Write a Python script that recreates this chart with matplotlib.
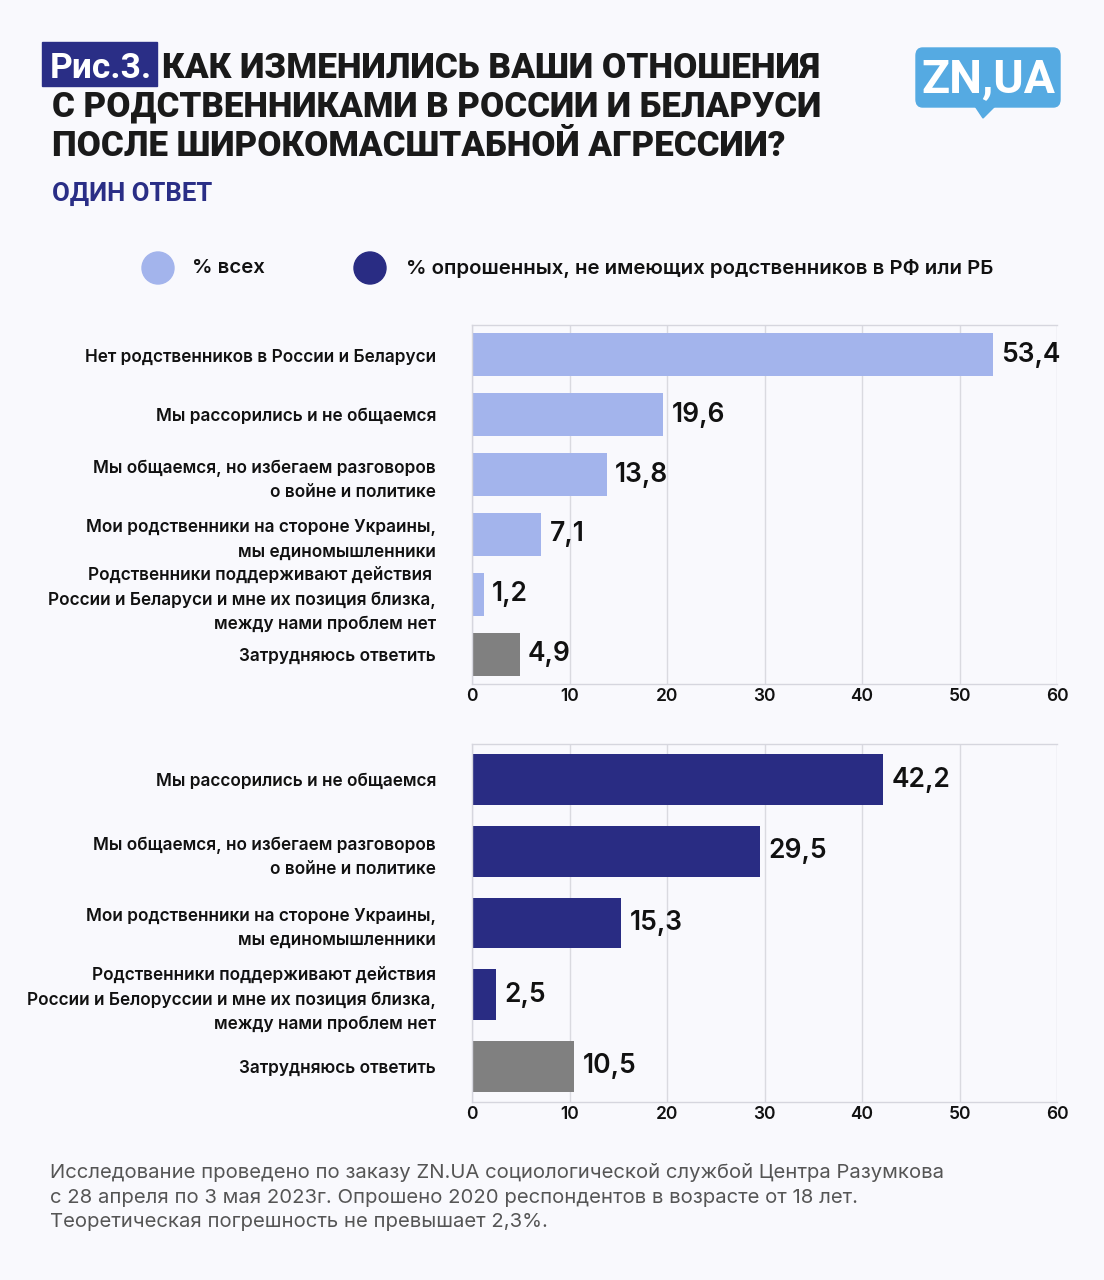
import matplotlib
matplotlib.use("Agg")
import matplotlib.pyplot as plt
from matplotlib.patches import FancyBboxPatch, Rectangle, Polygon, Circle

plt.rcParams['font.family'] = ['Inter', 'DejaVu Sans']

# DATA ============================
cats_all = [
    "Нет родственников в России и Беларуси",
    "Мы рассорились и не общаемся",
    "Мы общаемся, но избегаем разговоров\nо войне и политике",
    "Мои родственники на стороне Украины,\nмы единомышленники",
    "Родственники поддерживают действия \nРоссии и Беларуси и мне их позиция близка,\nмежду нами проблем нет",
    "Затрудняюсь ответить",
]
vals_all = [53.4, 19.6, 13.8, 7.1, 1.2, 4.9]

cats_norel = [
    "Мы рассорились и не общаемся",
    "Мы общаемся, но избегаем разговоров\nо войне и политике",
    "Мои родственники на стороне Украины,\nмы единомышленники",
    "Родственники поддерживают действия\nРоссии и Белоруссии и мне их позиция близка,\nмежду нами проблем нет",
    "Затрудняюсь ответить",
]
vals_norel = [42.2, 29.5, 15.3, 2.5, 10.5]

xticks = [0, 10, 20, 30, 40, 50, 60]
legend_labels = ["% всех", "% опрошенных, не имеющих родственников в РФ или РБ"]

BG = "#F9F9FD"
LIGHT = "#A3B4EC"
DARK = "#292C83"
GRAY = "#808080"
NAVY = "#2A2E86"

W, H = 1104, 1280
fig = plt.figure(figsize=(W / 100, H / 100), dpi=100, facecolor=BG)


def rect(l, t, r, b):
    return [l / W, 1 - b / H, (r - l) / W, (b - t) / H]


def fx(x):
    return x / W


def fy(y):
    return 1 - y / H


def fit_width(txt, target_px):
    # shrink / grow text so that it spans target_px
    r = fig.canvas.get_renderer()
    w = txt.get_window_extent(r).width
    txt.set_fontsize(txt.get_fontsize() * target_px / w)


def bars(ax, cats, vals, color, ylim, bh):
    y = list(range(len(vals)))
    colors = [color] * len(vals)
    colors[-1] = GRAY
    ax.barh(y, vals, height=bh, color=colors, zorder=3)
    for yy, v in zip(y, vals):
        ax.annotate(f"{v:.1f}".replace(".", ","), (v, yy), xytext=(6, 0),
                    textcoords="offset points", va="center", ha="left",
                    fontsize=19, fontweight="semibold", color="#111111")
    ax.set_ylim(*ylim)
    ax.set_xlim(0, 60)
    ax.set_yticks(y)
    ax.set_yticklabels(cats, fontsize=12.4, fontweight="semibold",
                       color="#111111", linespacing=1.55)
    ax.set_xticks(xticks)
    ax.set_xticklabels([str(t) for t in xticks], fontsize=12.5,
                       fontweight="semibold", color="#111111")
    ax.tick_params(axis="y", length=0, pad=26)
    ax.tick_params(axis="x", length=0, pad=3)
    ax.set_facecolor(BG)
    ax.grid(axis="x", color="#DADAE0", linewidth=1, zorder=0)
    ax.spines["right"].set_visible(False)
    for s in ["left", "bottom", "top"]:
        ax.spines[s].set_color("#D6D6DE")
        ax.spines[s].set_linewidth(1)
        ax.spines[s].set_zorder(4)


# MAIN ============================
ax1 = fig.add_axes(rect(472, 325, 1057, 684))
bars(ax1, cats_all, vals_all, LIGHT, (5.5, -0.5), 0.72)

ax2 = fig.add_axes(rect(472, 744, 1057, 1102))
bars(ax2, cats_norel, vals_norel, DARK, (4.5, -0.5), 0.71)

# title
fig.patches.append(Rectangle((fx(42), fy(86)), fx(115), 44 / H, transform=fig.transFigure,
                             color=NAVY, zorder=1))
t0 = fig.text(fx(50), fy(68), "Рис.3.", color="white", fontsize=22, family=["Roboto", "DejaVu Sans"],
              fontweight="bold", va="center", ha="left", zorder=2)
fit_width(t0, 102)
title_lines = [
    (162, 68, "КАК ИЗМЕНИЛИСЬ ВАШИ ОТНОШЕНИЯ", 658),
    (52, 107, "С РОДСТВЕННИКАМИ В РОССИИ И БЕЛАРУСИ", 769),
    (52, 147, "ПОСЛЕ ШИРОКОМАСШТАБНОЙ АГРЕССИИ?", 733),
]
for x, y, s, w in title_lines:
    t = fig.text(fx(x), fy(y), s, color="#1A1A1A", fontsize=24, family=["Roboto", "DejaVu Sans"],
                 fontweight="black", va="center", ha="left")
    fit_width(t, w)

t = fig.text(fx(52), fy(194), "ОДИН ОТВЕТ", color=NAVY, fontsize=17, family=["Roboto", "DejaVu Sans"],
             fontweight="bold", va="center", ha="left")
fit_width(t, 160)

# logo
fig.patches.append(FancyBboxPatch((fx(916), fy(107)), fx(144), 59 / H,
                                  boxstyle="round,pad=0,rounding_size=0.006",
                                  transform=fig.transFigure, color="#55AAE2", zorder=1))
fig.patches.append(Polygon([(fx(975), fy(106)), (fx(995), fy(106)), (fx(983), fy(118))],
                           closed=True, transform=fig.transFigure, color="#55AAE2", zorder=1))
t = fig.text(fx(988), fy(79), "ZN,UA", color="white", fontsize=36, family=["Roboto", "DejaVu Sans"],
             fontweight="bold", va="center", ha="center", zorder=2)
fit_width(t, 134)

# legend (circles drawn in a pixel-space overlay axes so they stay round)
ax_leg = fig.add_axes([0, 0, 1, 1], zorder=-1)
ax_leg.set_xlim(0, W)
ax_leg.set_ylim(H, 0)
ax_leg.axis("off")
for cx, col, lab, tx in [(158, LIGHT, legend_labels[0], 192), (370, DARK, legend_labels[1], 406)]:
    ax_leg.add_patch(Circle((cx, 268), 16, color=col))
    fig.text(fx(tx), fy(268), lab, fontsize=14.7, fontweight="semibold", color="#111111",
             va="center", ha="left")

# footer
foot = ("Исследование проведено по заказу ZN.UA социологической службой Центра Разумкова\n"
        "с 28 апреля по 3 мая 2023г. Опрошено 2020 респондентов в возрасте от 18 лет.\n"
        "Теоретическая погрешность не превышает 2,3%.")
fig.text(fx(50), fy(1163), foot, fontsize=14.6, color="#555555", va="top", ha="left",
         linespacing=1.48)

fig.savefig("out.png", dpi=100, facecolor=BG)
